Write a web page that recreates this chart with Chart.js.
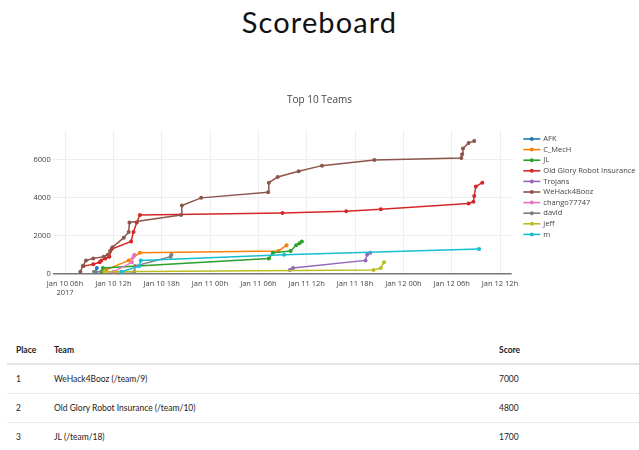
<!DOCTYPE html>
<html>
<head>
<meta charset="utf-8">
<title>Scoreboard</title>
<script src="https://cdn.jsdelivr.net/npm/chart.js@4.4.1/dist/chart.umd.min.js"></script>
<style>
body{margin:0;width:639px;height:450px;overflow:hidden;background:#fff;font-family:Lato,sans-serif}
h1{position:absolute;top:7px;left:0;width:639px;margin:0;text-align:center;font-weight:400;font-size:29px;line-height:29px;letter-spacing:1.1px;color:#111}
#caixaGrafico{position:absolute;top:85px;left:0;width:639px;height:215px}
table{position:absolute;top:337px;left:7px;width:640px;border-collapse:collapse;font-size:8.5px;color:#222}
th{font-weight:700;text-align:left;height:26px;border-bottom:2px solid #e4e4e4;padding:0 0 0 9px}
td{height:28px;border-bottom:1px solid #e8e8e8;padding:0 0 0 9px}
</style>
</head>
<body>

<h1>Scoreboard</h1>

<div id="caixaGrafico">
<canvas id="graficoTop10"></canvas>
</div>

<table>
<colgroup><col style="width:38px"><col style="width:445px"><col></colgroup>
<thead>
<tr><th>Place</th><th>Team</th><th>Score</th></tr>
</thead>
<tbody id="tabelaPlacar"></tbody>
</table>

<script>
// hours since Jan 10 2017 00h, score at each solve
let teams=['AFK','C_MecH','JL','Old Glory Robot Insurance','Trojans','WeHack4Booz','chango77747','david','jeff','m']

let afkHours=[9.8,9.95]
let afkScores=[100,300]

let mechHours=[10.6,11.1,13.9,15.3,32.5,33.5]
let mechScores=[100,200,700,1100,1200,1500]

let jlHours=[10.5,10.7,31.3,31.8,34.0,34.7,35.1,35.4]
let jlScores=[100,300,800,1100,1200,1500,1600,1700]

let gloryHours=[8.3,9.5,10.3,10.5,11.0,11.5,11.8,14.2,14.5,14.9,15.3,33.0,40.9,45.2,56.1,56.7,56.8,57.0,57.8]
let gloryScores=[400,500,600,700,800,900,1300,1700,2200,2700,3100,3200,3300,3400,3700,3800,4100,4600,4800]

let trojansHours=[33.9,34.3,43.3,43.5,43.9]
let trojansScores=[200,300,700,1000,1100]

let boozHours=[7.9,8.2,8.6,9.5,10.8,11.3,11.6,11.9,13.3,13.9,14.0,20.4,20.5,22.9,31.2,31.3,32.4,35.0,37.9,44.4,55.2,55.3,55.4,56.1,56.8]
let boozScores=[100,400,700,800,900,1000,1200,1400,1900,2200,2700,3100,3600,4000,4300,4800,5100,5400,5700,6000,6100,6300,6600,6900,7000]

let changoHours=[12.0,14.3,14.5,14.6]
let changoScores=[100,600,900,1000]

let davidHours=[9.6,14.6,14.7,19.1,19.2]
let davidScores=[100,100,400,900,1000]

let jeffHours=[10.9,44.3,45.2,45.6]
let jeffScores=[100,200,300,600]

let mHours=[13.0,15.2,15.4,33.2,57.4]
let mScores=[100,400,700,1000,1300]

let hoursByTeam=[afkHours,mechHours,jlHours,gloryHours,trojansHours,boozHours,changoHours,davidHours,jeffHours,mHours]
let scoresByTeam=[afkScores,mechScores,jlScores,gloryScores,trojansScores,boozScores,changoScores,davidScores,jeffScores,mScores]

let xTicks=[6,12,18,24,30,36,42,48,54,60]
let xLabels=['Jan 10 06h','Jan 10 12h','Jan 10 18h','Jan 11 00h','Jan 11 06h','Jan 11 12h','Jan 11 18h','Jan 12 00h','Jan 12 06h','Jan 12 12h']
let yTicks=[0,2000,4000,6000]

let placeList=[1,2,3]
let placeTeams=['WeHack4Booz (/team/9)','Old Glory Robot Insurance (/team/10)','JL (/team/18)']
let placeScores=[7000,4800,1700]

let colors=['#1f77b4','#ff7f0e','#2ca02c','#d62728','#9467bd','#8c564b','#e377c2','#7f7f7f','#bcbd22','#17becf']

let html=''
placeList.forEach((p,i)=>{
html+=`<tr><td>${p}</td><td>${placeTeams[i]}</td><td>${placeScores[i]}</td></tr>`
})
document.getElementById('tabelaPlacar').innerHTML=html

let fonte='"Open Sans", sans-serif'

function drawLegend(chart,box){
let ctx=chart.ctx
let x0=box.left+11.6
let y=chart.chartArea.top+9
ctx.save()
chart.data.datasets.forEach(d=>{
ctx.strokeStyle=d.borderColor
ctx.lineWidth=1.6
ctx.beginPath()
ctx.moveTo(x0,y)
ctx.lineTo(x0+17,y)
ctx.stroke()
ctx.fillStyle=d.borderColor
ctx.beginPath()
ctx.arc(x0+8.5,y,2,0,Math.PI*2)
ctx.fill()
ctx.fillStyle='#444'
ctx.font='7.5px '+fonte
ctx.textBaseline='middle'
ctx.fillText(d.label,x0+20,y)
y+=10.6
})
ctx.restore()
}

// plotly style legend (short line with a dot) as its own layout box on the right
let sideLegend={
id:'sideLegend',
beforeInit(chart){
let box={
position:'right',
weight:0,
fullSize:false,
options:{position:'right',weight:0,fullSize:false},
isHorizontal(){return false},
update(w,h){this.width=127.3;this.height=h},
getPadding(){return{top:0,left:0,right:0,bottom:0}},
draw(){drawLegend(chart,this)}
}
Chart.layouts.addBox(chart,box)
}
}

let datasets=teams.map((t,i)=>({
label:t,
data:hoursByTeam[i].map((h,j)=>({x:h,y:scoresByTeam[i][j]})),
borderColor:colors[i],
backgroundColor:colors[i],
borderWidth:1.5,
pointRadius:2,
pointBorderWidth:0,
tension:0,
order:teams.length-i
}))

new Chart(document.getElementById('graficoTop10'),{
type:'line',
data:{datasets:datasets},
options:{
responsive:true,
maintainAspectRatio:false,
animation:false,
layout:{padding:0},
plugins:{
legend:{display:false},
tooltip:{enabled:false},
title:{
display:true,
text:'Top 10 Teams',
color:'#444',
font:{family:fonte,size:10,weight:'normal'},
padding:{top:9,bottom:24}
}
},
scales:{
x:{
type:'linear',
min:4.47,
max:61.45,
afterBuildTicks(s){s.ticks=xTicks.map(v=>({value:v}))},
afterFit(s){s.height=26.3},
ticks:{
callback:(v,i)=>i===0?[xLabels[i],'2017']:xLabels[i],
color:'#444',
font:{family:fonte,size:7.5},
padding:6,
maxRotation:0,
autoSkip:false
},
grid:{color:'#eee',drawTicks:false},
border:{display:false}
},
y:{
min:0,
max:7580,
afterBuildTicks(s){s.ticks=yTicks.map(v=>({value:v}))},
afterFit(s){s.width=52.7},
ticks:{
callback:v=>String(v),
color:'#444',
font:{family:fonte,size:7.5},
padding:2
},
grid:{
color:c=>c.tick&&c.tick.value===0?'#777':'#eee',
lineWidth:c=>c.tick&&c.tick.value===0?1.5:1,
drawTicks:false
},
border:{display:false}
}
}
},
plugins:[sideLegend]
})
</script>
</body>
</html>
